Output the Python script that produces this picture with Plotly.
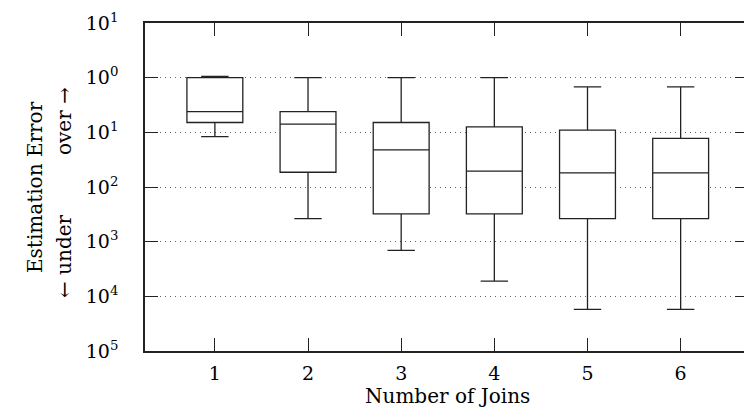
import plotly.graph_objects as go

# Number of joins (x categories)
joins = [1, 2, 3, 4, 5, 6]
# Box statistics, stored as log10 of the estimation-error ratio
lower_exp = [-1.08, -2.58, -3.16, -3.72, -4.24, -4.24]
q1_exp = [-0.82, -1.73, -2.49, -2.49, -2.58, -2.58]
median_exp = [-0.62, -0.85, -1.32, -1.71, -1.74, -1.74]
q3_exp = [0.0, -0.62, -0.82, -0.90, -0.96, -1.11]
upper_exp = [0.025, 0.0, 0.0, 0.0, -0.17, -0.17]

# y tick positions (log10) and their labels
tick_exp = [1, 0, -1, -2, -3, -4, -5]
tick_text = ["10<sup>1</sup>", "10<sup>0</sup>", "10<sup>1</sup>", "10<sup>2</sup>",
             "10<sup>3</sup>", "10<sup>4</sup>", "10<sup>5</sup>"]

def p(v):
    return [10.0 ** x for x in v]

FONT = "DejaVu Serif"
FS = 19
TFS = 20
INK = "#222222"

fig = go.Figure()
fig.add_trace(go.Box(
    x=joins,
    lowerfence=p(lower_exp), q1=p(q1_exp), median=p(median_exp),
    q3=p(q3_exp), upperfence=p(upper_exp),
    width=0.6, whiskerwidth=0.49,
    fillcolor="white",
    line=dict(color=INK, width=1.3),
    boxpoints=False, showlegend=False, hoverinfo="skip",
))
# invisible trace for right-side tick axis
fig.add_trace(go.Scatter(x=[joins[0]], y=[1.0], yaxis="y2", mode="markers",
                         marker=dict(opacity=0), showlegend=False, hoverinfo="skip"))

tickvals = [10.0 ** e for e in tick_exp]

fig.update_layout(
    width=744, height=418,
    margin=dict(l=145, r=0, t=23, b=67),
    paper_bgcolor="white", plot_bgcolor="white",
    font=dict(family=FONT, size=FS, color="black"),
    xaxis=dict(
        range=[0.25, 6.68], automargin=False,
        tickvals=joins, ticktext=[str(j) for j in joins],
        ticks="inside", ticklen=13, tickwidth=1.3, tickcolor=INK,
        ticklabelstandoff=4,
        showline=True, linecolor=INK, linewidth=1.6, mirror="ticks",
        showgrid=False, zeroline=False,
        tickfont=dict(family=FONT, size=FS),
    ),
    yaxis=dict(
        type="log", range=[-5, 1], automargin=False,
        tickvals=tickvals, ticktext=tick_text,
        ticks="inside", ticklen=13, tickwidth=1.3, tickcolor=INK,
        ticklabelstandoff=21,
        showline=True, linecolor=INK, linewidth=1.6, mirror=False,
        showgrid=True, gridcolor="#666666", griddash="1px,4px", gridwidth=1,
        zeroline=False,
        tickfont=dict(family=FONT, size=FS),
    ),
    yaxis2=dict(
        type="log", range=[-5, 1], overlaying="y", side="right", automargin=False,
        tickvals=tickvals, showticklabels=False,
        ticks="inside", ticklen=9, tickwidth=1.3, tickcolor=INK,
        showline=False, showgrid=False, zeroline=False,
    ),
)

fig.add_annotation(text="Number of Joins", x=3.5, xref="x", y=396, showarrow=False,
                   font=dict(family=FONT, size=TFS))
fig.add_annotation(text="Estimation Error", x=35, y=187, showarrow=False,
                   textangle=-90, font=dict(family=FONT, size=TFS))
fig.add_annotation(text="over \u2192", x=64, y=121, showarrow=False,
                   textangle=-90, font=dict(family=FONT, size=TFS))
fig.add_annotation(text="\u2190 under", x=64, y=256, showarrow=False,
                   textangle=-90, font=dict(family=FONT, size=TFS))

# convert pixel coordinates of annotations to paper coords
H, W = 418, 744
pl, pt, pb = 145, 23, 67
ph = H - pt - pb
pw = W - pl
for a in fig.layout.annotations:
    if a.xref != "x":
        a.xref = "paper"
        a.x = (a.x - pl) / pw
    a.yref = "paper"
    a.y = (H - pb - a.y) / ph
    a.xanchor = "center"
    a.yanchor = "middle"

fig.write_html(
    "out.html",
    config={"displayModeBar": False},
    post_script="document.body.style.margin='0';document.body.style.overflow='hidden';",
)
